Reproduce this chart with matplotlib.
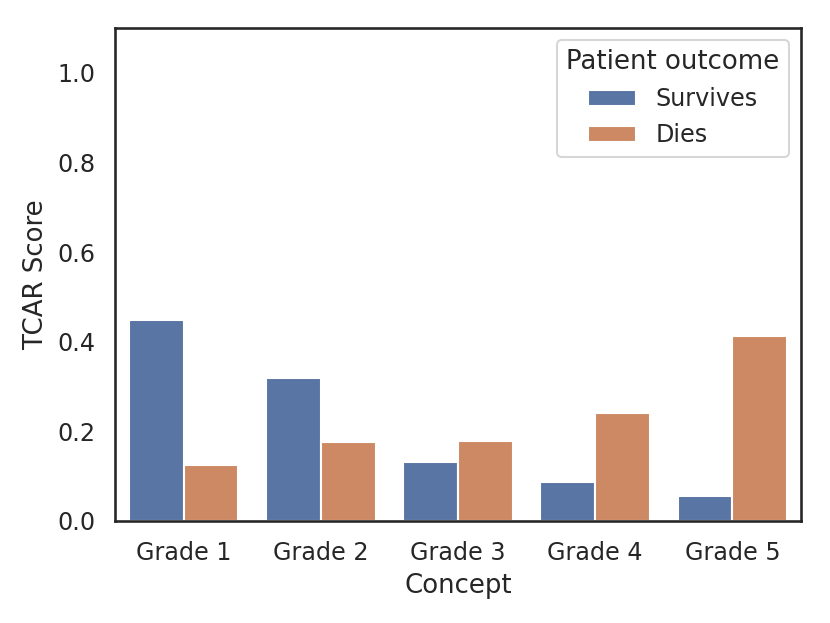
import numpy as np
import pandas as pd
import seaborn as sns
import matplotlib
matplotlib.use("Agg")
import matplotlib.pyplot as plt

# values
grades = ["Grade 1", "Grade 2", "Grade 3", "Grade 4", "Grade 5"]
survives = [0.448, 0.318, 0.132, 0.087, 0.056]
dies = [0.126, 0.177, 0.179, 0.242, 0.413]
outcomes = ["Survives", "Dies"]

df = pd.DataFrame({
    "Concept": grades * 2,
    "TCAR Score": survives + dies,
    "Patient outcome": [outcomes[0]] * len(grades) + [outcomes[1]] * len(grades),
})

sns.set_theme(style="white", context="notebook", font_scale=1.04)

fig = plt.figure(figsize=(830 / 150, 623 / 150), dpi=150)
ax = fig.add_axes([115 / 830, 1 - 521 / 623, (801 - 115) / 830, (521 - 28) / 623])
sns.barplot(data=df, x="Concept", y="TCAR Score", hue="Patient outcome",
            palette="deep", ax=ax)
ax.set_ylim(0, 1.1)
ax.set_yticks([0.0, 0.2, 0.4, 0.6, 0.8, 1.0])
for sp in ax.spines.values():
    sp.set_color("#262626")
ax.legend(title="Patient outcome", loc="upper right")

fig.savefig("out.png", dpi=150)
